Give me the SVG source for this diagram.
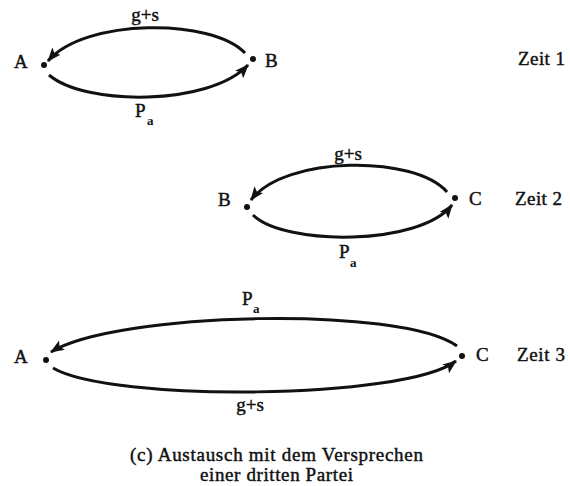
<svg xmlns="http://www.w3.org/2000/svg" width="570" height="486" viewBox="0 0 570 486">
<style>
.t{font-family:"Liberation Serif","Times New Roman",serif;font-size:19px;fill:#111;stroke:#111;stroke-width:0.45;}
.s{font-family:"Liberation Serif","Times New Roman",serif;font-size:13px;font-weight:bold;fill:#111;}
.arc{fill:none;stroke:#111;stroke-width:3;marker-end:url(#ah);}
.dot{fill:#111;}
</style>
<defs>
<marker id="ah" markerUnits="userSpaceOnUse" markerWidth="16" markerHeight="12" refX="13" refY="5.5" orient="auto">
<path d="M0,0 L14,5.5 L0,11 L3,5.5 z" fill="#111"/>
</marker>
</defs>
<rect width="570" height="486" fill="#fff"/>
<g id="connectors">
<path class="arc" d="M245,53 C212,18 85,18 48,61"/>
<path class="arc" d="M49,75 C85,106 210,106 248,65"/>
<path class="arc" d="M447,192 C415,155 285,155 251,200"/>
<path class="arc" d="M253,215 C285,246 420,246 452,205"/>
<path class="arc" d="M457,346 C400,305 115,312 51,352"/>
<path class="arc" d="M53,368 C110,402 405,400 456,361"/>
</g>
<g id="t1-A"><circle class="dot" cx="44" cy="65" r="3"/><text class="t" x="14" y="68">A</text></g>
<g id="t1-B"><circle class="dot" cx="253" cy="59" r="3"/><text class="t" x="265" y="67">B</text></g>
<g id="t2-B"><circle class="dot" cx="247" cy="207" r="3"/><text class="t" x="218" y="206">B</text></g>
<g id="t2-C"><circle class="dot" cx="455" cy="198" r="3"/><text class="t" x="469" y="205">C</text></g>
<g id="t3-A"><circle class="dot" cx="46" cy="360" r="3"/><text class="t" x="14" y="363">A</text></g>
<g id="t3-C"><circle class="dot" cx="462" cy="356" r="3"/><text class="t" x="476" y="361">C</text></g>
<g id="labels">
<text class="t" x="145" y="21" text-anchor="middle">g+s</text>
<text class="t" x="135" y="117">P</text><text class="s" x="147" y="125">a</text>
<text class="t" x="348" y="160" text-anchor="middle">g+s</text>
<text class="t" x="339" y="258">P</text><text class="s" x="350" y="267">a</text>
<text class="t" x="242" y="305">P</text><text class="s" x="253" y="313">a</text>
<text class="t" x="250" y="411" text-anchor="middle">g+s</text>
<text class="t" x="518" y="65" textLength="47">Zeit 1</text>
<text class="t" x="515" y="205" textLength="47">Zeit 2</text>
<text class="t" x="517" y="361" textLength="48">Zeit 3</text>
<text class="t" x="276.5" y="461" text-anchor="middle" textLength="293">(c) Austausch mit dem Versprechen</text>
<text class="t" x="276.5" y="481" text-anchor="middle" textLength="153">einer dritten Partei</text>
</g>
</svg>
